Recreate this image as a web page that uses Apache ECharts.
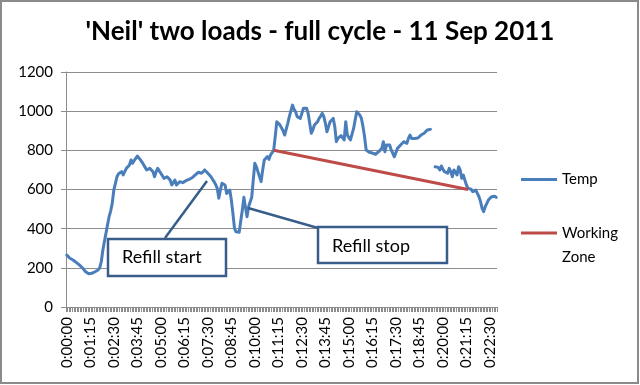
<!DOCTYPE html>
<html><head><meta charset="utf-8">
<script src="https://cdn.jsdelivr.net/npm/echarts@6/dist/echarts.min.js"></script>
<style>html,body{margin:0;padding:0;background:#fff}#c{width:640px;height:385px}</style>
</head><body><div id="c"></div>
<script>
const chartTitle = "'Neil' two loads - full cycle - 11 Sep 2011";
const tickLabels = ['0:00:00','0:01:15','0:02:30','0:03:45','0:05:00','0:06:15','0:07:30','0:08:45','0:10:00','0:11:15','0:12:30','0:13:45','0:15:00','0:16:15','0:17:30','0:18:45','0:20:00','0:21:15','0:22:30'];
const sampleStepSeconds = 5;
const temps = [
265,255,249,245,240,231,228,222,215,209,200,190,180,175,170,
168,172,177,180,182,189,200,230,290,335,376,420,461,490,529,
597,630,665,680,686,691,675,665,708,700,725,751,734,748,759,
771,762,751,740,734,713,700,705,708,698,691,665,690,708,695,
683,670,657,660,665,655,648,623,635,648,623,632,640,638,635,
640,645,648,652,657,660,665,675,683,688,691,683,692,700,692,
683,675,665,652,640,625,606,555,597,632,628,623,580,590,597,
546,478,402,384,380,382,384,495,560,510,461,512,515,560,650,
734,716,690,665,640,700,751,760,768,754,776,785,800,870,946,
938,930,921,900,878,870,938,972,980,1031,1010,997,972,980,963,
963,1015,1023,1015,989,938,887,904,929,921,946,963,975,989,972,
938,895,921,946,955,963,921,844,861,870,875,878,853,946,878,
865,853,853,912,955,997,997,980,963,921,870,802,793,790,788,
786,784,780,776,793,784,810,844,793,827,836,827,802,785,767,
776,810,819,827,835,844,853,836,861,878,861,853,861,856,863,
870,878,882,887,895,904,906,907,null,null,716,714,713,700,720,
703,691,700,683,708,691,665,700,688,674,716,700,657,674,648,
623,606,597,601,589,580,597,589,563,538,504,487,512,529,546,
555,563,572,565,560
];
const zoneTimes = ['0:11:00', '0:21:20'];
const zoneValues = [800, 600];
const seriesNames = ['Temp', 'Working Zone'];
const noteTexts = ['Refill start', 'Refill stop'];

function fmt(s) {
  const h = Math.floor(s / 3600), m = Math.floor((s % 3600) / 60), ss = s % 60;
  return h + ':' + String(m).padStart(2, '0') + ':' + String(ss).padStart(2, '0');
}
const categories = temps.map((_, i) => fmt(i * sampleStepSeconds));

const FONT = 'Lato';
const gridColor = '#8c8c8c';
const blue = '#4A7EBB', red = '#BE4B48', boxBlue = '#385D8A';

const chart = echarts.init(document.getElementById('c'), null, {renderer: 'canvas'});
chart.setOption({
  animation: false,
  backgroundColor: '#fff',
  title: {
    text: chartTitle, left: 'center', top: 19, padding: 0,
    textStyle: {fontFamily: FONT, fontSize: 26, fontWeight: 'bold', color: '#000'}
  },
  legend: [
    {
      data: [seriesNames[0]], orient: 'vertical', left: 521, top: 172, padding: 0,
      icon: 'rect', itemWidth: 36, itemHeight: 3,
      textStyle: {fontFamily: FONT, fontSize: 15, color: '#000'}
    },
    {
      data: [seriesNames[1]],
      orient: 'vertical', left: 521, top: 197, padding: 0,
      icon: 'rect', itemWidth: 36, itemHeight: 3,
      formatter: n => ' \n' + n.replace(' ', '\n'),
      textStyle: {fontFamily: FONT, fontSize: 15, color: '#000', lineHeight: 24}
    }
  ],
  grid: {left: 66, top: 72, width: 431, height: 235, containLabel: false},
  xAxis: {
    type: 'category', data: categories, boundaryGap: true,
    axisLine: {lineStyle: {color: gridColor, width: 1}},
    axisTick: {show: true, interval: 0, length: 5, lineStyle: {color: gridColor}},
    axisLabel: {
      interval: (i, v) => tickLabels.includes(v),
      rotate: 90, margin: 10, fontFamily: FONT, fontSize: 15, color: '#000'
    },
    splitLine: {show: false}
  },
  yAxis: {
    type: 'value', min: 0, max: 1200, interval: 200,
    axisLine: {show: true, lineStyle: {color: gridColor}},
    axisTick: {show: true, length: 5, lineStyle: {color: gridColor}},
    axisLabel: {margin: 13, fontFamily: FONT, fontSize: 15, color: '#000', formatter: v => String(v)},
    splitLine: {lineStyle: {color: gridColor, width: 1}}
  },
  series: [
    {
      name: seriesNames[0], type: 'line', data: temps, symbol: 'none', showSymbol: false,
      connectNulls: false, color: blue,
      lineStyle: {color: blue, width: 3, join: 'round', cap: 'round'}, z: 3
    },
    {
      name: seriesNames[1], type: 'line', data: zoneTimes.map((t, i) => [t, zoneValues[i]]),
      symbol: 'none', showSymbol: false, color: red,
      lineStyle: {color: red, width: 3}, z: 4
    }
  ],
  graphic: [
    {type: 'rect', shape: {x: 1, y: 1, width: 637, height: 382}, style: {fill: null, stroke: '#8a8a8a', lineWidth: 2}, silent: true},
    {type: 'line', shape: {x1: 165, y1: 238, x2: 207, y2: 181}, style: {stroke: boxBlue, lineWidth: 2.5}, z: 10},
    {type: 'rect', shape: {x: 108, y: 239, width: 118, height: 37}, style: {fill: '#fff', stroke: boxBlue, lineWidth: 2.5}, z: 11},
    {type: 'text', x: 122, y: 257.5, style: {text: noteTexts[0], fontFamily: FONT, fontSize: 18, fill: '#000', verticalAlign: 'middle'}, z: 12},
    {type: 'line', shape: {x1: 248, y1: 208, x2: 318, y2: 228}, style: {stroke: boxBlue, lineWidth: 2.5}, z: 10},
    {type: 'rect', shape: {x: 318, y: 227, width: 129, height: 36}, style: {fill: '#fff', stroke: boxBlue, lineWidth: 2.5}, z: 11},
    {type: 'text', x: 332, y: 246.5, style: {text: noteTexts[1], fontFamily: FONT, fontSize: 18, fill: '#000', verticalAlign: 'middle'}, z: 12}
  ]
});
</script>
</body></html>
